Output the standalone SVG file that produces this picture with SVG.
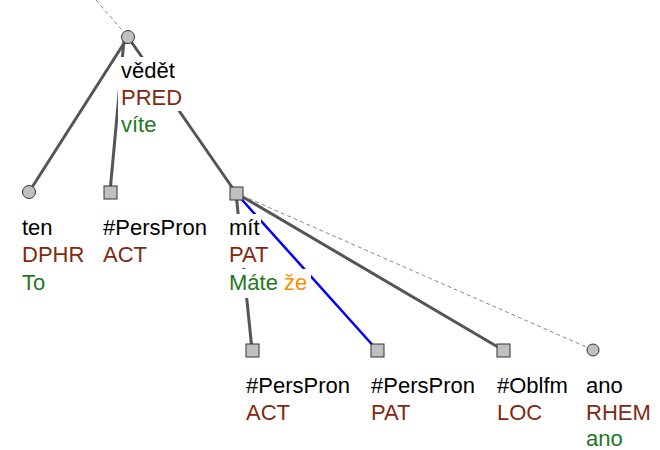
<svg xmlns="http://www.w3.org/2000/svg" width="660" height="450" viewBox="0 0 660 450">
<style>
text{font-family:"Liberation Sans",Arial,sans-serif;font-size:22px}
.lm{fill:#000}
.fn{fill:#7f2a10}
.wf{fill:#1d7a1d}
.or{fill:#ff8a00}
.bg{fill:#fff}
.nd{fill:#c0c0c0;stroke:#333;stroke-width:1}
.e{stroke:#555;stroke-width:3;fill:none;stroke-linecap:round}
.eb{stroke:#0000ff;stroke-width:2.5;fill:none;stroke-linecap:round}
.d{stroke:#888;stroke-width:1;fill:none;stroke-dasharray:4 3}
</style>
<rect width="660" height="450" fill="#fff"/>
<g id="connectors">
<line class="d" x1="96" y1="0" x2="128" y2="37"/>
<line class="e" x1="128" y1="37" x2="29" y2="192"/>
<line class="e" x1="124" y1="40" x2="110" y2="192"/>
<line class="e" x1="128" y1="37" x2="236" y2="193"/>
<line class="e" x1="236" y1="193" x2="252" y2="350"/>
<line class="eb" x1="236" y1="193" x2="377" y2="350"/>
<line class="e" x1="236" y1="193" x2="503" y2="350"/>
<line class="d" x1="236" y1="193" x2="593" y2="350"/>
</g>
<g id="n-vedet">
<rect class="bg" x="118" y="57" width="60" height="27"/>
<rect class="bg" x="118" y="84" width="67" height="27"/>
<rect class="bg" x="118" y="111" width="40" height="27"/>
<circle class="nd" cx="128" cy="37" r="6.5"/>
<text class="lm" x="121" y="78">vědět</text>
<text class="fn" x="121" y="105">PRED</text>
<text class="wf" x="121" y="132">víte</text>
</g>
<g id="n-ten">
<rect class="bg" x="19" y="214" width="37" height="27"/>
<rect class="bg" x="19" y="241" width="68" height="27"/>
<rect class="bg" x="19" y="268" width="31" height="27"/>
<circle class="nd" cx="29" cy="192" r="6.5"/>
<text class="lm" x="22" y="235">ten</text>
<text class="fn" x="22" y="262">DPHR</text>
<text class="wf" x="22" y="290">To</text>
</g>
<g id="n-perspron1">
<rect class="bg" x="100" y="214" width="110" height="27"/>
<rect class="bg" x="100" y="241" width="50" height="27"/>
<rect class="nd" x="104" y="186" width="13" height="13"/>
<text class="lm" x="103" y="235">#PersPron</text>
<text class="fn" x="103" y="262">ACT</text>
</g>
<g id="n-mit">
<rect class="bg" x="226" y="214" width="35" height="27"/>
<rect class="bg" x="226" y="241" width="49" height="27"/>
<rect class="bg" x="226" y="269" width="85" height="29"/>
<rect class="nd" x="230" y="187" width="13" height="13"/>
<text class="lm" x="229" y="235">mít</text>
<text class="fn" x="229" y="262">PAT</text>
<text x="229" y="290"><tspan class="wf">Máte</tspan> <tspan class="or">že</tspan></text>
</g>
<g id="n-perspron2">
<rect class="nd" x="246" y="344" width="13" height="13"/>
<text class="lm" x="246" y="393">#PersPron</text>
<text class="fn" x="246" y="420">ACT</text>
</g>
<g id="n-perspron3">
<rect class="nd" x="371" y="344" width="13" height="13"/>
<text class="lm" x="371" y="393">#PersPron</text>
<text class="fn" x="371" y="420">PAT</text>
</g>
<g id="n-oblfm">
<rect class="nd" x="497" y="344" width="13" height="13"/>
<text class="lm" x="497" y="393">#Oblfm</text>
<text class="fn" x="497" y="420">LOC</text>
</g>
<g id="n-ano">
<circle class="nd" cx="593" cy="350" r="6"/>
<text class="lm" x="586" y="393">ano</text>
<text class="fn" x="586" y="420">RHEM</text>
<text class="wf" x="586" y="446">ano</text>
</g>
</svg>
